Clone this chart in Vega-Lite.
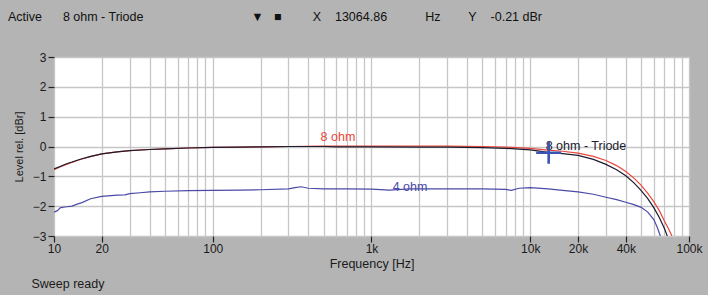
{
  "$schema": "https://vega.github.io/schema/vega-lite/v6.json",
  "width": 635,
  "height": 179,
  "autosize": {"type": "none"},
  "padding": {"left": 54, "top": 57, "right": 19, "bottom": 59},
  "background": "#b4b4b4",
  "title": {
    "text": "Active\u00a0\u00a0\u00a0\u00a0\u00a0\u00a08 ohm - Triode\u00a0\u00a0\u00a0\u00a0\u00a0\u00a0\u00a0\u00a0\u00a0\u00a0\u00a0\u00a0\u00a0\u00a0\u00a0\u00a0\u00a0\u00a0\u00a0\u00a0\u00a0\u00a0\u00a0\u00a0\u00a0\u00a0\u00a0\u00a0\u00a0\u00a0\u00a0\u25bc\u00a0\u00a0\u00a0\u25a0\u00a0\u00a0\u00a0\u00a0\u00a0\u00a0\u00a0\u00a0\u00a0X\u00a0\u00a0\u00a0\u00a013064.86\u00a0\u00a0\u00a0\u00a0\u00a0\u00a0\u00a0\u00a0\u00a0\u00a0\u00a0Hz\u00a0\u00a0\u00a0\u00a0\u00a0\u00a0\u00a0\u00a0Y\u00a0\u00a0\u00a0\u00a0-0.21 dBr",
    "anchor": "start",
    "frame": "group",
    "dx": -46,
    "offset": 28,
    "font": "Liberation Sans",
    "fontSize": 12.5,
    "fontWeight": "normal",
    "color": "#111111"
  },
  "config": {
    "font": "Liberation Sans",
    "view": {"fill": "#ffffff", "stroke": "#d8d8d8", "strokeWidth": 1},
    "axis": {
      "labelFont": "Liberation Sans",
      "labelFontSize": 12,
      "labelColor": "#1a1a1a",
      "titleFont": "Liberation Sans",
      "titleFontWeight": "normal",
      "titleColor": "#1a1a1a",
      "gridColor": "#c6c6c6",
      "gridWidth": 1.3,
      "gridOpacity": 1,
      "domain": false,
      "tickColor": "#222222",
      "tickWidth": 1.2
    }
  },
  "datasets": {
    "curves": [
      {"series": "4 ohm", "freq": 10, "level": -2.2},
      {"series": "4 ohm", "freq": 10.5, "level": -2.15},
      {"series": "4 ohm", "freq": 11, "level": -2.05},
      {"series": "4 ohm", "freq": 12, "level": -2.02},
      {"series": "4 ohm", "freq": 13, "level": -2.0},
      {"series": "4 ohm", "freq": 14, "level": -1.93},
      {"series": "4 ohm", "freq": 15, "level": -1.88},
      {"series": "4 ohm", "freq": 17, "level": -1.75},
      {"series": "4 ohm", "freq": 20, "level": -1.67},
      {"series": "4 ohm", "freq": 25, "level": -1.63},
      {"series": "4 ohm", "freq": 28, "level": -1.62},
      {"series": "4 ohm", "freq": 30, "level": -1.58},
      {"series": "4 ohm", "freq": 35, "level": -1.55},
      {"series": "4 ohm", "freq": 40, "level": -1.52},
      {"series": "4 ohm", "freq": 50, "level": -1.5},
      {"series": "4 ohm", "freq": 70, "level": -1.48},
      {"series": "4 ohm", "freq": 100, "level": -1.47},
      {"series": "4 ohm", "freq": 150, "level": -1.46},
      {"series": "4 ohm", "freq": 200, "level": -1.45},
      {"series": "4 ohm", "freq": 300, "level": -1.42},
      {"series": "4 ohm", "freq": 330, "level": -1.38},
      {"series": "4 ohm", "freq": 360, "level": -1.35},
      {"series": "4 ohm", "freq": 400, "level": -1.4},
      {"series": "4 ohm", "freq": 500, "level": -1.42},
      {"series": "4 ohm", "freq": 700, "level": -1.42},
      {"series": "4 ohm", "freq": 1000, "level": -1.43},
      {"series": "4 ohm", "freq": 1300, "level": -1.46},
      {"series": "4 ohm", "freq": 1748, "level": -1.42, "label": "4 ohm"},
      {"series": "4 ohm", "freq": 2000, "level": -1.42},
      {"series": "4 ohm", "freq": 3000, "level": -1.42},
      {"series": "4 ohm", "freq": 5000, "level": -1.42},
      {"series": "4 ohm", "freq": 7000, "level": -1.44},
      {"series": "4 ohm", "freq": 7600, "level": -1.47},
      {"series": "4 ohm", "freq": 8500, "level": -1.4},
      {"series": "4 ohm", "freq": 10000, "level": -1.38},
      {"series": "4 ohm", "freq": 13000, "level": -1.42},
      {"series": "4 ohm", "freq": 16000, "level": -1.47},
      {"series": "4 ohm", "freq": 20000, "level": -1.52},
      {"series": "4 ohm", "freq": 25000, "level": -1.6},
      {"series": "4 ohm", "freq": 30000, "level": -1.7},
      {"series": "4 ohm", "freq": 35000, "level": -1.78},
      {"series": "4 ohm", "freq": 40000, "level": -1.87},
      {"series": "4 ohm", "freq": 45000, "level": -1.95},
      {"series": "4 ohm", "freq": 50000, "level": -2.04},
      {"series": "4 ohm", "freq": 55000, "level": -2.2},
      {"series": "4 ohm", "freq": 60000, "level": -2.45},
      {"series": "4 ohm", "freq": 63000, "level": -2.7},
      {"series": "4 ohm", "freq": 66000, "level": -3.0},

      {"series": "8 ohm", "freq": 10, "level": -0.78},
      {"series": "8 ohm", "freq": 11, "level": -0.68},
      {"series": "8 ohm", "freq": 12, "level": -0.6},
      {"series": "8 ohm", "freq": 13, "level": -0.53},
      {"series": "8 ohm", "freq": 14, "level": -0.47},
      {"series": "8 ohm", "freq": 15, "level": -0.42},
      {"series": "8 ohm", "freq": 17, "level": -0.34},
      {"series": "8 ohm", "freq": 20, "level": -0.25},
      {"series": "8 ohm", "freq": 25, "level": -0.18},
      {"series": "8 ohm", "freq": 30, "level": -0.14},
      {"series": "8 ohm", "freq": 40, "level": -0.1},
      {"series": "8 ohm", "freq": 50, "level": -0.08},
      {"series": "8 ohm", "freq": 70, "level": -0.05},
      {"series": "8 ohm", "freq": 100, "level": -0.03},
      {"series": "8 ohm", "freq": 150, "level": -0.02},
      {"series": "8 ohm", "freq": 200, "level": -0.01},
      {"series": "8 ohm", "freq": 300, "level": 0.0},
      {"series": "8 ohm", "freq": 500, "level": 0.01},
      {"series": "8 ohm", "freq": 615, "level": 0.01, "label": "8 ohm"},
      {"series": "8 ohm", "freq": 1000, "level": 0.01},
      {"series": "8 ohm", "freq": 2000, "level": 0.01},
      {"series": "8 ohm", "freq": 3000, "level": 0.01},
      {"series": "8 ohm", "freq": 5000, "level": 0.0},
      {"series": "8 ohm", "freq": 7000, "level": -0.02},
      {"series": "8 ohm", "freq": 10000, "level": -0.06},
      {"series": "8 ohm", "freq": 13000, "level": -0.12},
      {"series": "8 ohm", "freq": 16000, "level": -0.16},
      {"series": "8 ohm", "freq": 20000, "level": -0.22},
      {"series": "8 ohm", "freq": 25000, "level": -0.33},
      {"series": "8 ohm", "freq": 30000, "level": -0.47},
      {"series": "8 ohm", "freq": 35000, "level": -0.64},
      {"series": "8 ohm", "freq": 40000, "level": -0.84},
      {"series": "8 ohm", "freq": 45000, "level": -1.06},
      {"series": "8 ohm", "freq": 50000, "level": -1.3},
      {"series": "8 ohm", "freq": 55000, "level": -1.57},
      {"series": "8 ohm", "freq": 60000, "level": -1.85},
      {"series": "8 ohm", "freq": 65000, "level": -2.15},
      {"series": "8 ohm", "freq": 70000, "level": -2.5},
      {"series": "8 ohm", "freq": 75000, "level": -2.8},
      {"series": "8 ohm", "freq": 78000, "level": -3.0},

      {"series": "8 ohm - Triode", "freq": 10, "level": -0.75},
      {"series": "8 ohm - Triode", "freq": 11, "level": -0.66},
      {"series": "8 ohm - Triode", "freq": 12, "level": -0.58},
      {"series": "8 ohm - Triode", "freq": 13, "level": -0.52},
      {"series": "8 ohm - Triode", "freq": 14, "level": -0.46},
      {"series": "8 ohm - Triode", "freq": 15, "level": -0.41},
      {"series": "8 ohm - Triode", "freq": 17, "level": -0.33},
      {"series": "8 ohm - Triode", "freq": 20, "level": -0.25},
      {"series": "8 ohm - Triode", "freq": 25, "level": -0.18},
      {"series": "8 ohm - Triode", "freq": 30, "level": -0.14},
      {"series": "8 ohm - Triode", "freq": 40, "level": -0.1},
      {"series": "8 ohm - Triode", "freq": 50, "level": -0.08},
      {"series": "8 ohm - Triode", "freq": 70, "level": -0.05},
      {"series": "8 ohm - Triode", "freq": 100, "level": -0.03},
      {"series": "8 ohm - Triode", "freq": 150, "level": -0.02},
      {"series": "8 ohm - Triode", "freq": 200, "level": -0.01},
      {"series": "8 ohm - Triode", "freq": 300, "level": 0.0},
      {"series": "8 ohm - Triode", "freq": 500, "level": 0.0},
      {"series": "8 ohm - Triode", "freq": 600, "level": -0.01},
      {"series": "8 ohm - Triode", "freq": 1000, "level": -0.01},
      {"series": "8 ohm - Triode", "freq": 2000, "level": -0.02},
      {"series": "8 ohm - Triode", "freq": 3000, "level": -0.02},
      {"series": "8 ohm - Triode", "freq": 5000, "level": -0.04},
      {"series": "8 ohm - Triode", "freq": 7000, "level": -0.06},
      {"series": "8 ohm - Triode", "freq": 10000, "level": -0.11},
      {"series": "8 ohm - Triode", "freq": 13000, "level": -0.2},
      {"series": "8 ohm - Triode", "freq": 16000, "level": -0.24},
      {"series": "8 ohm - Triode", "freq": 20000, "level": -0.3},
      {"series": "8 ohm - Triode", "freq": 25000, "level": -0.43},
      {"series": "8 ohm - Triode", "freq": 30000, "level": -0.6},
      {"series": "8 ohm - Triode", "freq": 35000, "level": -0.78},
      {"series": "8 ohm - Triode", "freq": 40000, "level": -0.98},
      {"series": "8 ohm - Triode", "freq": 45000, "level": -1.22},
      {"series": "8 ohm - Triode", "freq": 50000, "level": -1.48},
      {"series": "8 ohm - Triode", "freq": 55000, "level": -1.75},
      {"series": "8 ohm - Triode", "freq": 60000, "level": -2.05},
      {"series": "8 ohm - Triode", "freq": 65000, "level": -2.38},
      {"series": "8 ohm - Triode", "freq": 70000, "level": -2.75},
      {"series": "8 ohm - Triode", "freq": 73000, "level": -3.0}
    ],
    "cursor": [
      {"series": "8 ohm - Triode", "freq": 13064.86, "level": -0.21}
    ]
  },
  "resolve": {"axis": {"x": "independent"}},
  "layer": [
    {
      "data": {"name": "curves"},
      "mark": {"type": "line", "strokeWidth": 1.2, "clip": true},
      "encoding": {
        "x": {
          "field": "freq", "type": "quantitative",
          "scale": {"type": "log", "domain": [10, 100000], "nice": false},
          "axis": {
            "title": "Frequency [Hz]",
            "titleFontSize": 12.5,
            "titlePadding": 3,
            "values": [10,20,30,40,50,60,70,80,90,100,200,300,400,500,600,700,800,900,1000,2000,3000,4000,5000,6000,7000,8000,9000,10000,20000,30000,40000,50000,60000,70000,80000,90000,100000],
            "labelExpr": "(datum.value == 10 || datum.value == 20 || datum.value == 100 || datum.value == 1000 || datum.value == 10000 || datum.value == 20000 || datum.value == 40000 || datum.value == 100000) ? (datum.value >= 1000 ? (datum.value / 1000) + 'k' : datum.value + '') : ''",
            "labelOverlap": false,
            "labelFlush": false,
            "labelPadding": 1,
            "tickSize": 6,
            "tickOpacity": {"condition": {"test": "datum.value == 10 || datum.value == 20 || datum.value == 100 || datum.value == 1000 || datum.value == 10000 || datum.value == 20000 || datum.value == 40000 || datum.value == 100000", "value": 1}, "value": 0},
            "grid": true
          }
        },
        "y": {
          "field": "level", "type": "quantitative",
          "scale": {"domain": [-3, 3], "nice": false},
          "axis": {
            "title": "Level rel. [dBr]",
            "titleFontSize": 11,
            "titlePadding": 8,
            "values": [-3, -2, -1, 0, 1, 2, 3],
            "tickSize": 6,
            "labelPadding": 2,
            "grid": true
          }
        },
        "color": {
          "field": "series", "type": "nominal",
          "scale": {"domain": ["4 ohm", "8 ohm", "8 ohm - Triode"], "range": ["#4a4aa8", "#e8463c", "#1c1c2e"]},
          "legend": null
        },
        "order": {"field": "freq", "type": "quantitative"}
      }
    },
    {
      "data": {"name": "curves"},
      "transform": [{"filter": "datum.label == '8 ohm'"}],
      "mark": {"type": "text", "fontSize": 12.5, "align": "center", "baseline": "middle", "dy": -9},
      "encoding": {
        "x": {"field": "freq", "type": "quantitative", "axis": null},
        "y": {"field": "level", "type": "quantitative", "axis": {"title": "Level rel. [dBr]", "values": [-3, -2, -1, 0, 1, 2, 3], "tickSize": 6, "labelPadding": 2, "grid": true, "titleFontSize": 11, "titlePadding": 8}},
        "text": {"field": "label"},
        "color": {"field": "series", "type": "nominal", "legend": null}
      }
    },
    {
      "data": {"name": "curves"},
      "transform": [{"filter": "datum.label == '4 ohm'"}],
      "mark": {"type": "text", "fontSize": 12.5, "align": "center", "baseline": "middle", "dy": -2},
      "encoding": {
        "x": {"field": "freq", "type": "quantitative", "axis": null},
        "y": {"field": "level", "type": "quantitative", "axis": {"title": "Level rel. [dBr]", "values": [-3, -2, -1, 0, 1, 2, 3], "tickSize": 6, "labelPadding": 2, "grid": true, "titleFontSize": 11, "titlePadding": 8}},
        "text": {"field": "label"},
        "color": {"field": "series", "type": "nominal", "legend": null}
      }
    },
    {
      "data": {"name": "cursor"},
      "mark": {"type": "text", "fontSize": 12.5, "align": "left", "baseline": "middle", "dx": -3, "dy": -7, "color": "#1c1c2e"},
      "encoding": {
        "x": {"field": "freq", "type": "quantitative", "axis": null},
        "y": {"field": "level", "type": "quantitative", "axis": {"title": "Level rel. [dBr]", "values": [-3, -2, -1, 0, 1, 2, 3], "tickSize": 6, "labelPadding": 2, "grid": true, "titleFontSize": 11, "titlePadding": 8}},
        "text": {"field": "series"}
      }
    },
    {
      "data": {"name": "cursor"},
      "mark": {"type": "point", "shape": "M-1,0H1M0,-0.88V0.88", "size": 625, "filled": false, "strokeWidth": 2.6, "color": "#3a56b4", "opacity": 1},
      "encoding": {
        "x": {
          "field": "freq", "type": "quantitative",
          "axis": {"orient": "bottom", "title": "Sweep ready", "titleFontSize": 12.5, "titleAnchor": "start", "titleAlign": "left", "titleBaseline": "middle", "titleX": -23, "titleY": 47, "labels": false, "ticks": false, "grid": false, "domain": false}
        },
        "y": {"field": "level", "type": "quantitative", "axis": {"title": "Level rel. [dBr]", "values": [-3, -2, -1, 0, 1, 2, 3], "tickSize": 6, "labelPadding": 2, "grid": true, "titleFontSize": 11, "titlePadding": 8}}
      }
    }
  ]
}
